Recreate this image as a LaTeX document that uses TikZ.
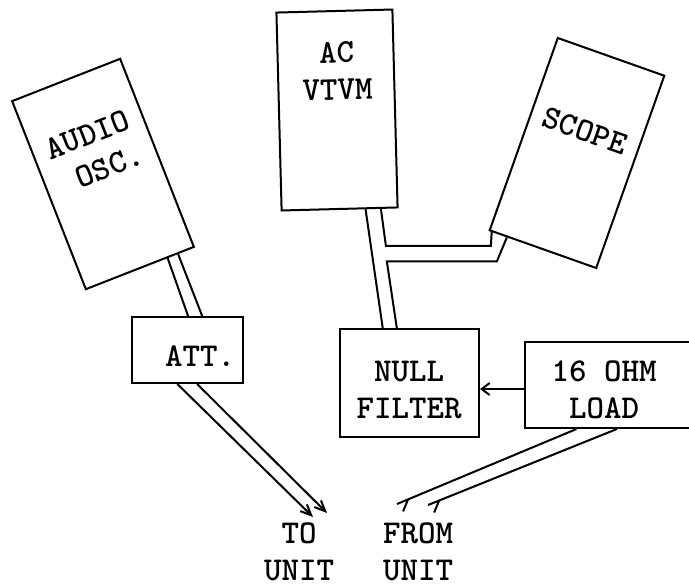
\documentclass[tikz,border=0pt]{standalone}
\usepackage{fontspec}
\usetikzlibrary{calc,arrows.meta}

\definecolor{inkcolor}{RGB}{0,0,0}

\begin{document}
\begin{tikzpicture}[x=0.75pt,y=-0.75pt,
    box/.style={draw=inkcolor, line width=1.5pt, inner sep=0pt},
    lbl/.style={text=inkcolor, font=\ttfamily\bfseries\addfontfeatures{FakeStretch=1.06}\fontsize{25}{28}\selectfont,
        align=center, inner sep=0pt},
    wire/.style={draw=inkcolor, line width=1.5pt},
    tip/.style={-{Straight Barb[length=8pt,width=7pt]}}]
    \useasboundingbox (0,0) rectangle (689,586);
    \clip (0,0) rectangle (689,586);

    % Draw the instrument boxes
    \node[box, rotate=21.4, minimum width=87pt, minimum height=151.5pt] (osc) at (103,174) {};
    \node[box, rotate=1.5, minimum width=87pt, minimum height=148.5pt] (vtvm) at (337,110) {};
    \node[box, rotate=-19.5, minimum width=84.75pt, minimum height=153pt] (scope) at (577,153) {};
    \node[box, minimum width=83.25pt, minimum height=49.5pt] (att) at (187.5,350) {};
    \node[box, minimum width=104.25pt, minimum height=81pt] (nullf) at (409.5,383) {};
    \node[box, minimum width=150pt, minimum height=64.5pt] (load) at (625,385) {};

    % Add the labels
    \node[lbl, rotate=21.4] (osctext) at ($(osc.center)!0.23!(osc.north)$) {AUDIO\\\phantom{A}OSC.};
    \node[lbl, rotate=1.5] (vtvmtext) at (337,71) {AC\\VTVM};
    \node[lbl, rotate=-19.5] (scopetext) at ($(scope.center)!0.23!(scope.north)$) {SCOPE};
    \node[lbl] (atttext) at (200,356) {ATT.};
    \node[lbl] (nulltext) at (409,390) {NULL\\FILTER};
    \node[lbl] (loadtext) at (604,390) {16 OHM\\LOAD};
    \node[lbl] (tounit) at (299,552) {TO\\UNIT};
    \node[lbl] (fromunit) at (418,552) {FROM\\UNIT};

    % Double lead from the oscillator to the attenuator
    \draw[wire] ($(osc.south west)!0.75!(osc.south east)$) -- ($(att.north west)!0.505!(att.north east)$);
    \draw[wire] ($(osc.south west)!0.845!(osc.south east)$) -- ($(att.north west)!0.63!(att.north east)$);

    % Leads to the unit
    \coordinate (to1) at (313,517);
    \coordinate (to2) at (327,513);
    \draw[wire, tip] ($(att.south west)!0.41!(att.south east)$) -- (to1);
    \draw[wire, tip] ($(att.south west)!0.585!(att.south east)$) -- (to2);

    % Meter and scope leads into the null filter
    \draw[wire] ($(vtvm.south west)!0.72!(vtvm.south east)$) -- ($(nullf.north west)!0.31!(nullf.north east)$);
    \draw[wire] ($(vtvm.south west)!0.85!(vtvm.south east)$) -- ++(5,37) -- ++(105,0)
        -- ($(scope.south west)!0.03!(scope.south east)$);
    \draw[wire] ($(scope.south west)!0.17!(scope.south east)$) -- ++(-10,24) -- ++(-110,0)
        -- ($(nullf.north west)!0.41!(nullf.north east)$);

    % Load into the filter
    \coordinate (lw) at ($(load.west)+(0,4)$);
    \draw[wire, -{Straight Barb[length=6pt,width=9pt]}] (lw) -- (lw -| nullf.east);

    % Return leads from the unit
    \coordinate (ld1) at ($(load.south west)!0.26!(load.south east)$);
    \coordinate (ld2) at ($(load.south west)!0.46!(load.south east)$);
    \coordinate (from1) at (397,504);
    \coordinate (from2) at (428,505);
    \draw[wire] (ld1) -- (from1);
    \draw[wire] (ld2) -- (from2);
    \draw[wire] ($(from1)!9pt!(ld1)$) -- ++(-5,12);
    \draw[wire] ($(from2)!9pt!(ld2)$) -- ++(-5,12);
\end{tikzpicture}
\end{document}
